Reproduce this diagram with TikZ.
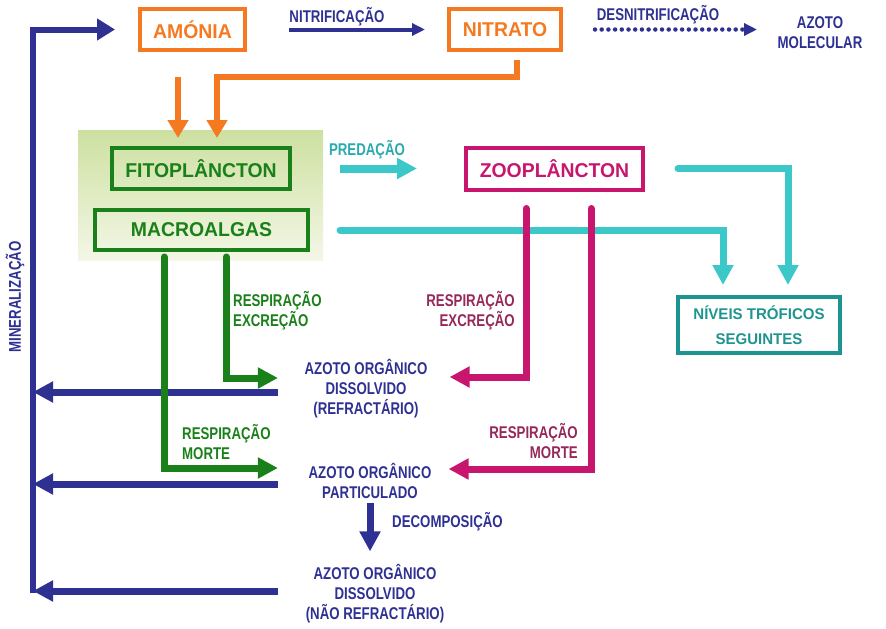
\documentclass[tikz,border=0pt]{standalone}
\usepackage{fontspec}
\setmainfont{Liberation Sans}
\newfontfamily\bigfont[FakeStretch=0.97]{Liberation Sans}
\newfontfamily\smallfont[FakeStretch=0.78]{Liberation Sans}
\usetikzlibrary{arrows.meta}
\definecolor{nblue}{RGB}{46,49,146}
\definecolor{norange}{RGB}{244,121,32}
\definecolor{ngreen}{RGB}{26,128,26}
\definecolor{ncyan}{RGB}{60,200,200}
\definecolor{nmag}{RGB}{200,22,110}
\definecolor{nplum}{RGB}{150,40,90}
\definecolor{nteal}{RGB}{30,148,144}
\definecolor{npred}{RGB}{40,170,176}
\definecolor{bgtop}{RGB}{205,224,160}
\definecolor{bgbot}{RGB}{243,247,230}

\begin{document}
\begin{tikzpicture}[x=1pt,y=-1pt,
	box/.style={draw,line width=4pt,inner sep=0pt,minimum height=41pt,
		font=\bigfont\bfseries\fontsize{20}{24}\selectfont},
	lbl/.style={inner sep=0pt,align=center,font=\smallfont\bfseries\fontsize{17}{20}\selectfont},
	fat/.style={line width=7pt,-{Triangle[length=20pt,width=20pt]}},
	slim/.style={line width=4pt,-{Triangle[length=13pt,width=12pt]}}]
	\useasboundingbox (0,0) rectangle (886,629);
	%\draw[help lines,step=50] (0,0) grid (886,629);
	\node[inner sep=0pt,minimum width=245pt,minimum height=130pt,top color=bgtop,bottom color=bgbot] (bg) at (200.5,195) {};

	\node[box,draw=norange,text=norange,minimum width=105pt] (amonia) at (192.5,29.5) {AMÓNIA};
	\node[box,draw=norange,text=norange,minimum width=112pt] (nitrato) at (505,29.5) {NITRATO};
	\node[lbl,text=nblue] (azmol) at (820,33) {AZOTO\\MOLECULAR};
	\node[box,draw=ngreen,text=ngreen,minimum width=178pt] (fito) at (201,168.5) {FITOPLÂNCTON};
	\node[box,draw=ngreen,text=ngreen,minimum width=213pt,minimum height=40pt] (macro) at (201.5,230) {MACROALGAS};
	\node[box,draw=nmag,text=nmag,minimum width=177pt,minimum height=42pt] (zoo) at (554.5,168.5) {ZOOPLÂNCTON};
	\node[box,draw=nteal,text=nteal,minimum width=162pt,minimum height=56pt,align=center,
		font=\bigfont\bfseries\fontsize{15.5}{25}\selectfont] (niveis) at (759,325) {NÍVEIS TRÓFICOS\\SEGUINTES};
	\node[lbl,text=nblue] (dor) at (366,389) {AZOTO ORGÂNICO\\DISSOLVIDO\\(REFRACTÁRIO)};
	\node[lbl,text=nblue] (part) at (370,481) {AZOTO ORGÂNICO\\PARTICULADO};
	\node[lbl,text=nblue] (dnr) at (375,594) {AZOTO ORGÂNICO\\DISSOLVIDO\\(NÃO REFRACTÁRIO)};

	% labels
	\node[lbl,text=nblue] (nitrif) at (337,17) {NITRIFICAÇÃO};
	\node[lbl,text=nblue] (desnit) at (658,15) {DESNITRIFICAÇÃO};
	\node[lbl,text=npred] (pred) at (367,150) {PREDAÇÃO};
	\node[lbl,text=nblue,rotate=90] (miner) at (15,297) {MINERALIZAÇÃO};
	\node[lbl,text=ngreen,anchor=west,align=left] (gre) at (233,311) {RESPIRAÇÃO\\EXCREÇÃO};
	\node[lbl,text=nplum,anchor=east,align=right] (mre) at (515,311) {RESPIRAÇÃO\\EXCREÇÃO};
	\node[lbl,text=ngreen,anchor=west,align=left] (grm) at (182,442) {RESPIRAÇÃO\\MORTE};
	\node[lbl,text=nplum,anchor=east,align=right] (mrm) at (578,441) {RESPIRAÇÃO\\MORTE};
	\node[lbl,text=nblue,anchor=west] (decomp) at (392,522) {DECOMPOSIÇÃO};

	% mineralizacao
	\coordinate (mintop) at (33,29.5);
	\coordinate (minbot) at (33,593);
	\draw[nblue,line width=6pt,-{Triangle[length=18pt,width=21pt]}] (minbot) -- (mintop) -- ([xshift=-23pt]amonia.west);
	\draw[nblue,fat] ([xshift=-26.5pt,yshift=-3pt]dor.west) -- ([yshift=-3pt]dor.west -| mintop);
	\draw[nblue,fat] ([xshift=-30.5pt,yshift=-3pt]part.west) -- ([yshift=-3pt]part.west -| mintop);
	\draw[nblue,fat] ([xshift=-28pt,yshift=3pt]dnr.west) -- ([yshift=3pt]dnr.west -| mintop);

	% azoto inorganico
	\coordinate (o1) at (178,77);
	\coordinate (o2) at (217,77);
	\coordinate (dtip) at (757,29.5);
	\draw[nblue,slim] ([xshift=42pt]amonia.east) -- ([xshift=-22pt]nitrato.west);
	\draw[nblue,line width=4.5pt,line cap=round,dash pattern=on 0pt off 6.7pt,-{Triangle[length=13pt,width=12pt]}] ([xshift=32pt]nitrato.east) -- (dtip);
	\draw[norange,line width=6pt,-{Triangle[length=18pt,width=20pt]},shorten >=8pt] (o1) -- (o1 |- fito.north);
	\draw[norange,line width=6pt,-{Triangle[length=18pt,width=20pt]},shorten >=8pt] ([xshift=12pt,yshift=-8pt]nitrato.south) |- (o2) -- (o2 |- fito.north);

	% predacao
	\draw[ncyan,line width=8pt,-{Triangle[length=20pt,width=20pt]}] ([xshift=48pt]fito.east) -- ([xshift=-47pt]zoo.west);
	\draw[ncyan,fat,line cap=round,shorten >=10pt] ([xshift=30pt]macro.east) -| ([xshift=-36pt]niveis.north);
	\draw[ncyan,fat,line cap=round,shorten >=10pt] ([xshift=33pt]zoo.east) -| ([xshift=29pt]niveis.north);

	% zooplancton
	\draw[nmag,fat,line cap=round] ([xshift=-28.5pt,yshift=-17pt]zoo.south) |- ([xshift=22pt,yshift=12pt]dor.east);
	\draw[nmag,fat,line cap=round] ([xshift=36.5pt,yshift=-17pt]zoo.south) |- ([xshift=17pt,yshift=12pt]part.east);

	% macroalgas
	\draw[ngreen,fat,line cap=round] ([xshift=-37.5pt,yshift=-5pt]macro.south) |- ([xshift=-30.5pt,yshift=13pt]part.west);
	\draw[ngreen,fat,line cap=round] ([xshift=24.5pt,yshift=-5pt]macro.south) |- ([xshift=-26.5pt,yshift=11pt]dor.west);

	% decomposicao
	\draw[nblue,fat,shorten <=4pt,shorten >=13pt] (part.south) -- (part.south |- dnr.north);
\end{tikzpicture}
\end{document}
